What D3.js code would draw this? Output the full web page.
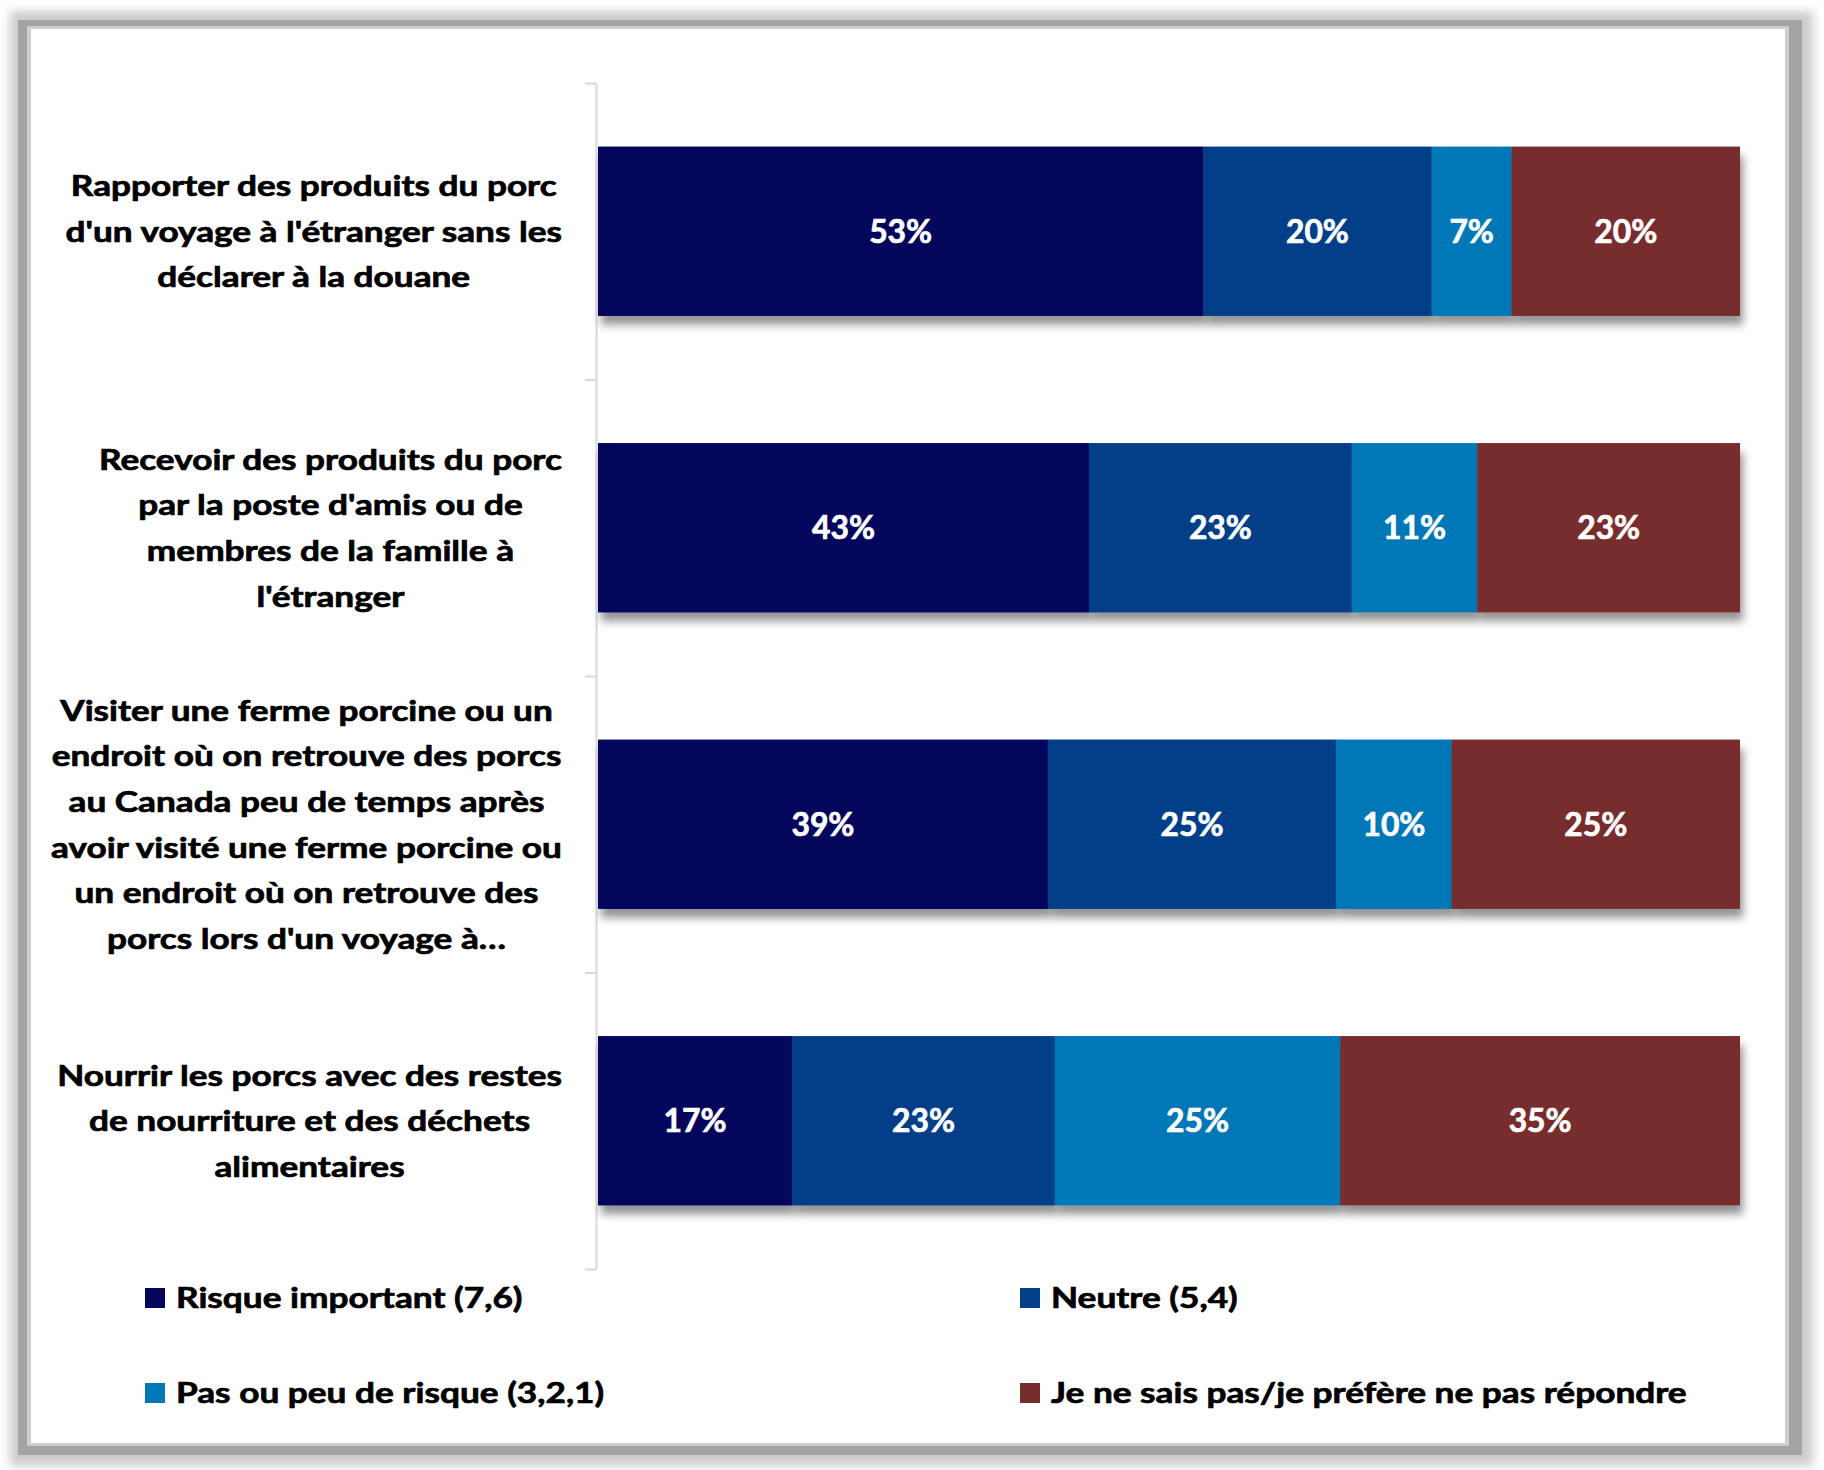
<!DOCTYPE html>
<html>
<head>
<meta charset="utf-8">
<script src="https://cdn.jsdelivr.net/npm/d3@7"></script>
<style>
  html, body { margin: 0; padding: 0; background: #ffffff; }
  svg { display: block; }
</style>
</head>
<body>
<div id="chart"></div>
<script>
// ---------- DATA ----------
const categoryLabels = [
  ["Rapporter des produits du porc", "d'un voyage à l'étranger sans les", "déclarer à la douane"],
  ["Recevoir des produits du porc", "par la poste d'amis ou de", "membres de la famille à", "l'étranger"],
  ["Visiter une ferme porcine ou un", "endroit où on retrouve des porcs", "au Canada peu de temps après", "avoir visité une ferme porcine ou", "un endroit où on retrouve des", "porcs lors d'un voyage à…"],
  ["Nourrir les porcs avec des restes", "de nourriture et des déchets", "alimentaires"]
];
const seriesNames = [
  "Risque important (7,6)",
  "Neutre (5,4)",
  "Pas ou peu de risque (3,2,1)",
  "Je ne sais pas/je préfère ne pas répondre"
];
const risqueImportant = [53, 43, 39, 17];
const neutre          = [20, 23, 25, 23];
const peuDeRisque     = [7, 11, 10, 25];
const neSaisPas       = [20, 23, 25, 35];
const seriesColors = ["#03065a", "#023f88", "#0078b8", "#772c2d"];

// ---------- LAYOUT ----------
const W = 1824, H = 1470;
const plot = { left: 598, right: 1740, top: 83, bottom: 1269 };
const FONT = "Lato, 'Open Sans', sans-serif";
const WEIGHT = 700;
const EMBOLDEN = 0.7;

const svg = d3.select("#chart").append("svg")
  .attr("width", W).attr("height", H)
  .attr("viewBox", `0 0 ${W} ${H}`);

const defs = svg.append("defs");
const sh = defs.append("filter").attr("id", "barShadow")
  .attr("x", "-5%").attr("y", "-20%").attr("width", "110%").attr("height", "160%");
sh.append("feDropShadow").attr("dx", 3).attr("dy", 9).attr("stdDeviation", 4)
  .attr("flood-color", "#000").attr("flood-opacity", 0.42);
const fr = defs.append("filter").attr("id", "frameShadow")
  .attr("x", "-3%").attr("y", "-3%").attr("width", "106%").attr("height", "106%");
fr.append("feGaussianBlur").attr("stdDeviation", 5);

// ---------- FRAME ----------
svg.append("rect").attr("x", 10).attr("y", 11).attr("width", 1803).attr("height", 1455)
  .attr("fill", "#cccccc").attr("filter", "url(#frameShadow)");
svg.append("rect").attr("x", 18).attr("y", 20).attr("width", 1784).attr("height", 1435)
  .attr("fill", "#a4a4a4");
svg.append("rect").attr("x", 27).attr("y", 26).attr("width", 1762).attr("height", 1420)
  .attr("fill", "#cfcfcf");
svg.append("rect").attr("x", 31).attr("y", 29).attr("width", 1754).attr("height", 1414)
  .attr("fill", "#ffffff");

// ---------- SCALES ----------
const idx = d3.range(categoryLabels.length);
const y = d3.scaleBand().domain(idx).range([plot.top, plot.bottom])
  .paddingInner(0.43).paddingOuter(0.215);
const x = d3.scaleLinear().domain([0, 1]).range([plot.left, plot.right]);
const yEdge = d3.scaleLinear().domain([0, idx.length]).range([plot.top, plot.bottom]);

const rows = idx.map(i => ({ i, s0: risqueImportant[i], s1: neutre[i], s2: peuDeRisque[i], s3: neSaisPas[i] }));
const keys = ["s0", "s1", "s2", "s3"];
const stacked = d3.stack().keys(keys).offset(d3.stackOffsetExpand)(rows);
const rawValues = [risqueImportant, neutre, peuDeRisque, neSaisPas];

// text helpers: Calibri-like proportions from an installed font
function measure(str, size, weight) {
  const t = svg.append("text").attr("font-family", FONT).attr("font-size", size)
    .attr("font-weight", weight).text(str);
  const w = t.node().getComputedTextLength();
  t.remove();
  return w;
}
const CAT_SIZE = 28, LBL_SIZE = 32, LEG_SIZE = 29;
const catSx = 486 / measure(categoryLabels[0][0], CAT_SIZE, WEIGHT);
const lblSx = 63 / measure("53%", LBL_SIZE, WEIGHT);
const legSx = 636 / measure(seriesNames[3], LEG_SIZE, WEIGHT);

// ---------- AXIS ----------
const axisG = svg.append("g").attr("transform", `translate(${plot.left - 2},0)`)
  .call(d3.axisLeft(yEdge).tickValues(d3.range(idx.length + 1)).tickSize(11).tickSizeOuter(0).tickFormat(""));
axisG.selectAll("path, line").attr("stroke", "#d9d9d9").attr("stroke-width", 2);

// ---------- BARS ----------
const barG = svg.append("g");
stacked.forEach((layer, k) => {
  barG.append("g").attr("fill", seriesColors[k]).attr("filter", "url(#barShadow)")
    .selectAll("rect").data(layer).join("rect")
    .attr("x", d => x(d[0]))
    .attr("y", d => y(d.data.i))
    .attr("width", d => x(d[1]) - x(d[0]))
    .attr("height", y.bandwidth());
});
stacked.forEach((layer, k) => {
  barG.append("g").attr("fill", seriesColors[k])
    .selectAll("rect").data(layer).join("rect")
    .attr("x", d => x(d[0]))
    .attr("y", d => y(d.data.i))
    .attr("width", d => x(d[1]) - x(d[0]))
    .attr("height", y.bandwidth());
});

// data labels
stacked.forEach((layer, k) => {
  barG.append("g").selectAll("text").data(layer).join("text")
    .attr("transform", d => `translate(${(x(d[0]) + x(d[1])) / 2},${y(d.data.i) + y.bandwidth() / 2 + 11.5}) scale(${lblSx},1)`)
    .attr("text-anchor", "middle")
    .attr("font-family", FONT).attr("font-size", LBL_SIZE).attr("font-weight", WEIGHT)
    .attr("fill", "#ffffff").attr("stroke", "#ffffff").attr("stroke-width", EMBOLDEN)
    .text(d => rawValues[k][d.data.i] + "%");
});

// ---------- CATEGORY LABELS ----------
const labelRight = 562, lineH = 45.7;
categoryLabels.forEach((lines, i) => {
  const widths = lines.map(l => measure(l, CAT_SIZE, WEIGHT) * catSx);
  const cx = labelRight - d3.max(widths) / 2;
  const cy = y(i) + y.bandwidth() / 2;
  const g = svg.append("g");
  lines.forEach((l, j) => {
    g.append("text")
      .attr("transform", `translate(${cx},${cy + 10.5 + (j - (lines.length - 1) / 2) * lineH}) scale(${catSx},1)`)
      .attr("text-anchor", "middle")
      .attr("font-family", FONT).attr("font-size", CAT_SIZE).attr("font-weight", WEIGHT)
      .attr("fill", "#000000").attr("stroke", "#000000").attr("stroke-width", EMBOLDEN)
      .text(l);
  });
});

// ---------- LEGEND ----------
const legendCols = [145, 1020], legendRows = [1288, 1383];
const legG = svg.append("g");
seriesNames.forEach((name, k) => {
  const lx = legendCols[k % 2], ly = legendRows[Math.floor(k / 2)];
  legG.append("rect").attr("x", lx).attr("y", ly).attr("width", 20).attr("height", 20)
    .attr("fill", seriesColors[k]);
  legG.append("text")
    .attr("transform", `translate(${lx + 31},${ly + 20}) scale(${legSx},1)`)
    .attr("font-family", FONT).attr("font-size", LEG_SIZE).attr("font-weight", WEIGHT)
    .attr("fill", "#000000").attr("stroke", "#000000").attr("stroke-width", EMBOLDEN)
    .text(name);
});
</script>
</body>
</html>
